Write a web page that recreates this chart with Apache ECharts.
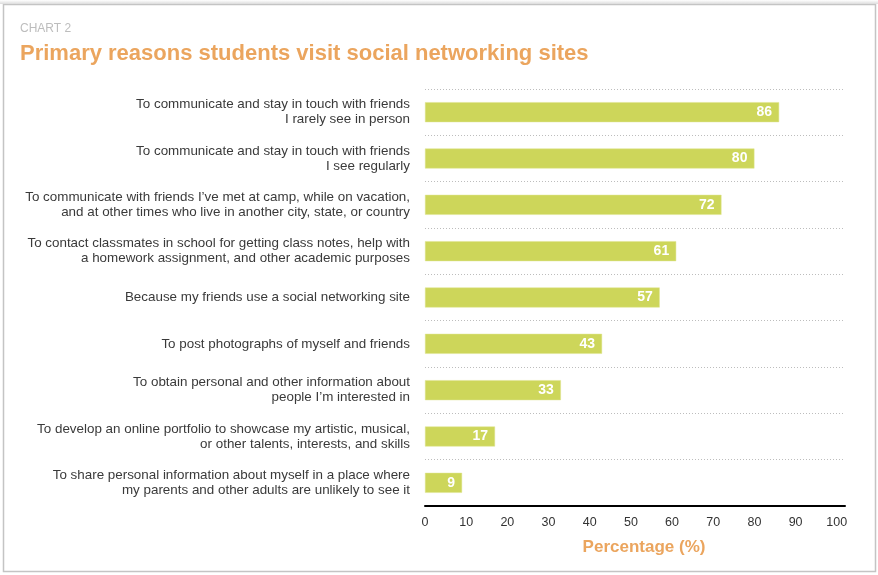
<!DOCTYPE html>
<html>
<head>
<meta charset="utf-8">
<script src="https://cdn.jsdelivr.net/npm/echarts@6/dist/echarts.min.js"></script>
<style>
  html, body { margin: 0; padding: 0; background: #fff; }
  #chart { width: 878px; height: 575px; }
</style>
</head>
<body>
<div id="chart"></div>
<script>
// Survey reasons (two-line labels) and share of students citing each one
const reasons = [
  'To communicate and stay in touch with friends\nI rarely see in person',
  'To communicate and stay in touch with friends\nI see regularly',
  'To communicate with friends I\u2019ve met at camp, while on vacation,\nand at other times who live in another city, state, or country',
  'To contact classmates in school for getting class notes, help with\na homework assignment, and other academic purposes',
  'Because my friends use a social networking site',
  'To post photographs of myself and friends',
  'To obtain personal and other information about\npeople I\u2019m interested in',
  'To develop an online portfolio to showcase my artistic, musical,\nor other talents, interests, and skills',
  'To share personal information about myself in a place where\nmy parents and other adults are unlikely to see it'
];
const percentages = [86, 80, 72, 61, 57, 43, 33, 17, 9];
const axisTicks = [0, 10, 20, 30, 40, 50, 60, 70, 80, 90, 100];

const FONT = '"Liberation Sans", Arial, Helvetica, sans-serif';
const ORANGE = '#eba55e';
const BAR = '#cdd65a';

const chart = echarts.init(document.getElementById('chart'), null, { renderer: 'canvas' });

chart.setOption({
  backgroundColor: '#ffffff',
  animation: false,
  textStyle: { fontFamily: FONT },
  title: [
    {
      text: 'CHART 2',
      left: 20, top: 23, padding: 0,
      textStyle: { fontFamily: FONT, fontSize: 12, fontWeight: 'normal', color: '#bdbdbd' }
    },
    {
      text: 'Primary reasons students visit social networking sites',
      left: 20, top: 43, padding: 0,
      textStyle: { fontFamily: FONT, fontSize: 22, fontWeight: 'bold', color: ORANGE }
    },
    {
      text: 'Percentage (%)',
      left: 644, top: 539, padding: 0,
      textAlign: 'center',
      textStyle: { fontFamily: FONT, fontSize: 17, fontWeight: 'bold', color: ORANGE }
    }
  ],
  graphic: [
    {
      type: 'rect',
      shape: { x: 3.5, y: 4.5, width: 872, height: 567 },
      style: { fill: 'none', stroke: '#c4c4c4', lineWidth: 1.5 },
      z: 0
    },
    {
      type: 'rect',
      shape: { x: 0, y: 0, width: 878, height: 4 },
      style: {
        fill: new echarts.graphic.LinearGradient(0, 0, 0, 1, [
          { offset: 0, color: '#ffffff' },
          { offset: 1, color: '#dcdcdc' }
        ])
      },
      z: 0
    }
  ],
  grid: { left: 425, right: 33, top: 89, bottom: 69, containLabel: false },
  xAxis: {
    type: 'value',
    min: 0,
    max: 102,
    interval: 10,
    axisLine: { show: true, lineStyle: { color: '#000', width: 2 } },
    axisTick: { show: false },
    splitLine: { show: false },
    axisLabel: {
      color: '#333',
      fontSize: 12.5,
      margin: 10,
      fontFamily: FONT,
      formatter: function (v) { return axisTicks.indexOf(v) >= 0 ? String(v) : ''; }
    }
  },
  yAxis: {
    type: 'category',
    data: reasons,
    inverse: true,
    axisLine: { show: false },
    axisTick: { show: false },
    splitLine: {
      show: true,
      interval: 0,
      lineStyle: { color: '#bdbdbd', type: [1, 2], width: 1 }
    },
    axisLabel: {
      color: '#3a3a3a',
      fontSize: 13.4,
      lineHeight: 15,
      margin: 15,
      align: 'right',
      fontFamily: FONT
    }
  },
  series: [
    {
      type: 'bar',
      data: percentages,
      barWidth: 20,
      itemStyle: { color: BAR, borderColor: '#dfe58f', borderWidth: 0.5 },
      label: {
        show: true,
        position: 'insideRight',
        distance: 7,
        color: '#ffffff',
        fontWeight: 'bold',
        fontSize: 14,
        fontFamily: FONT
      }
    }
  ]
});
</script>
</body>
</html>
